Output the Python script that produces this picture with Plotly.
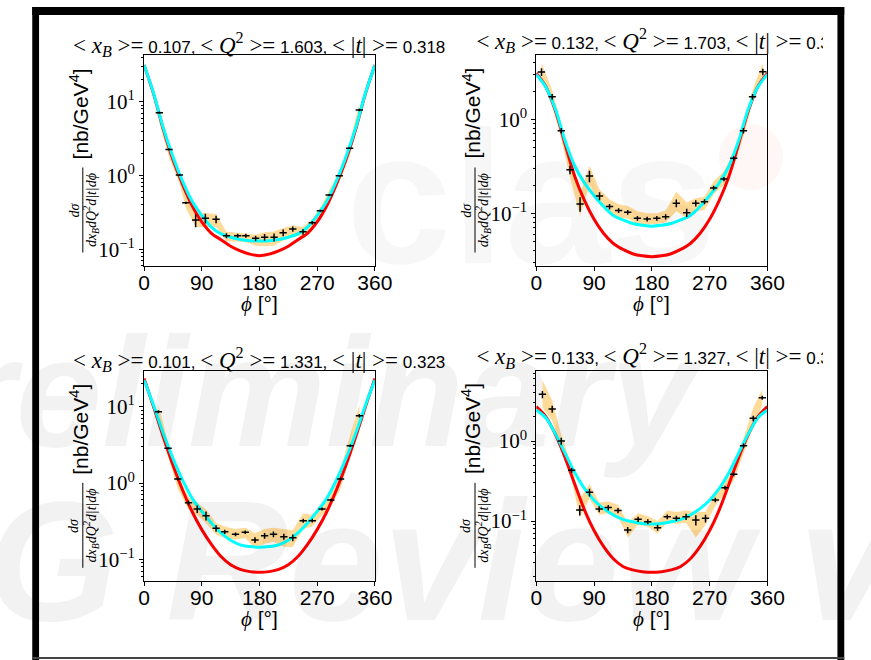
import plotly.graph_objects as go

W, H = 871, 660

# ---------------- data ----------------
PHI_CURVE = [0, 15, 30, 45, 60, 75, 90, 105, 120, 135, 150, 165, 180,
             195, 210, 225, 240, 255, 270, 285, 300, 315, 330, 345, 360]

# panel 1 : <xB>=0.107, <Q2>=1.603, <|t|>=0.318
phi1 = [23.8, 39.0, 55.1, 65.2, 80.4, 95.6, 112.3, 128.5, 146.0, 158.8, 174.0,
        188.0, 202.8, 217.0, 232.0, 248.0, 262.4, 275.0, 288.7, 304.5, 320.6, 335.7]
xs1 = [7.1, 2.26, 1.02, 0.427, 0.249, 0.263, 0.255, 0.153, 0.153, 0.153, 0.141,
       0.146, 0.146, 0.168, 0.188, 0.173, 0.229, 0.333, 0.545, 0.99, 2.34, 7.7]
err1 = [0.25, 0.06, 0.03, 0.015, 0.05, 0.04, 0.03, 0.012, 0.01, 0.01, 0.012,
        0.015, 0.018, 0.018, 0.015, 0.015, 0.012, 0.01, 0.012, 0.02, 0.05, 0.3]
lo1 = [5.2, 1.75, 0.8, 0.36, 0.2, 0.2, 0.2, 0.128, 0.128, 0.125, 0.112,
       0.11, 0.112, 0.132, 0.152, 0.15, 0.2, 0.285, 0.46, 0.82, 1.85, 5.6]
hi1 = [8.6, 2.65, 1.2, 0.52, 0.31, 0.31, 0.3, 0.173, 0.168, 0.163, 0.158,
       0.17, 0.175, 0.195, 0.21, 0.2, 0.26, 0.37, 0.63, 1.15, 2.8, 9.3]
cyan1 = [31.4, 12.8, 4.4, 1.8, 0.84, 0.447, 0.287, 0.2, 0.162, 0.146, 0.136, 0.131, 0.13,
         0.131, 0.136, 0.146, 0.162, 0.2, 0.287, 0.447, 0.84, 1.8, 4.4, 12.8, 31.4]
red1 = [31.4, 12.6, 4.2, 1.65, 0.76, 0.39, 0.235, 0.165, 0.135, 0.11, 0.095, 0.086, 0.082,
        0.086, 0.095, 0.11, 0.135, 0.165, 0.235, 0.39, 0.76, 1.65, 4.2, 12.6, 31.4]

# panel 2 : <xB>=0.132, <Q2>=1.703
phi2 = [8.1, 24.7, 38.9, 52.5, 68.2, 82.8, 98.5, 114.1, 128.2, 142.4, 157.5, 172.7,
        187.8, 201.5, 218.1, 234.3, 248.4, 262.0, 276.2, 292.3, 307.5, 322.6, 336.8, 352.9]
xs2 = [3.19, 1.74, 0.757, 0.29, 0.126, 0.249, 0.153, 0.118, 0.107, 0.1025, 0.0885, 0.087,
       0.0885, 0.092, 0.128, 0.1016, 0.128, 0.133, 0.186, 0.232, 0.385, 0.757, 1.74, 3.2]
err2 = [0.3, 0.12, 0.05, 0.03, 0.022, 0.035, 0.015, 0.008, 0.006, 0.006, 0.005, 0.005,
        0.005, 0.006, 0.012, 0.01, 0.01, 0.008, 0.01, 0.012, 0.02, 0.05, 0.12, 0.25]
lo2 = [2.6, 1.4, 0.62, 0.24, 0.095, 0.2, 0.13, 0.1, 0.09, 0.088, 0.077, 0.076,
       0.077, 0.08, 0.105, 0.09, 0.105, 0.108, 0.16, 0.2, 0.32, 0.65, 1.5, 2.8]
hi2 = [4.0, 2.05, 0.9, 0.35, 0.16, 0.32, 0.18, 0.14, 0.125, 0.12, 0.105, 0.1,
       0.1, 0.107, 0.17, 0.13, 0.145, 0.15, 0.22, 0.28, 0.45, 0.88, 2.05, 4.0]
cyan2 = [3.0, 2.2, 1.27, 0.587, 0.317, 0.211, 0.155, 0.118, 0.095, 0.085, 0.078, 0.0747, 0.073,
         0.0747, 0.078, 0.085, 0.095, 0.118, 0.155, 0.211, 0.317, 0.587, 1.27, 2.2, 3.0]
red2 = [3.1, 2.22, 1.22, 0.542, 0.247, 0.137, 0.0863, 0.061, 0.0478, 0.0413, 0.0372, 0.0353, 0.0346,
        0.0353, 0.0372, 0.0413, 0.0478, 0.061, 0.0863, 0.137, 0.247, 0.542, 1.22, 2.22, 3.1]

# panel 3 : <xB>=0.101, <Q2>=1.331, <|t|>=0.323
phi3 = [22.3, 37.4, 52.6, 69.3, 82.9, 96.6, 112.3, 125.9, 142.6, 157.8, 173.0,
        188.0, 201.8, 218.0, 232.0, 248.3, 262.4, 277.6, 291.3, 306.5, 321.6, 335.8]
xs3 = [8.6, 2.85, 1.13, 0.552, 0.456, 0.373, 0.255, 0.23, 0.213, 0.226, 0.179,
       0.204, 0.213, 0.198, 0.192, 0.321, 0.321, 0.456, 0.598, 1.13, 3.08, 7.6]
err3 = [0.4, 0.1, 0.05, 0.04, 0.05, 0.05, 0.025, 0.015, 0.012, 0.012, 0.015,
        0.018, 0.018, 0.018, 0.02, 0.02, 0.018, 0.02, 0.025, 0.05, 0.12, 0.4]
lo3 = [6.0, 2.2, 0.85, 0.45, 0.38, 0.3, 0.21, 0.19, 0.18, 0.19, 0.14,
       0.16, 0.17, 0.145, 0.145, 0.25, 0.27, 0.38, 0.5, 0.85, 2.3, 5.3]
hi3 = [10.5, 3.4, 1.3, 0.66, 0.55, 0.45, 0.3, 0.27, 0.25, 0.26, 0.22,
       0.25, 0.26, 0.25, 0.24, 0.4, 0.38, 0.52, 0.7, 1.5, 4.3, 10.5]
cyan3 = [22.3, 10.3, 4.45, 2.1, 1.09, 0.63, 0.425, 0.3, 0.222, 0.178, 0.155, 0.147, 0.144,
         0.147, 0.155, 0.178, 0.222, 0.3, 0.425, 0.63, 1.09, 2.1, 4.45, 10.3, 22.3]
red3 = [23.4, 9.8, 4.0, 1.72, 0.81, 0.42, 0.245, 0.157, 0.109, 0.085, 0.074, 0.069, 0.0676,
        0.069, 0.074, 0.085, 0.109, 0.157, 0.245, 0.42, 0.81, 1.72, 4.0, 9.8, 23.4]

# panel 4 : <xB>=0.133, <Q2>=1.327
phi4 = [9.6, 24.8, 38.9, 55.1, 67.7, 82.9, 98.0, 112.1, 127.3, 142.4, 158.6, 173.7,
        188.9, 204.0, 218.2, 233.3, 248.5, 263.6, 278.8, 293.9, 307.6, 322.8, 337.9, 352.0]
xs4 = [3.83, 2.51, 1.0, 0.43, 0.137, 0.228, 0.141, 0.147, 0.135, 0.0772, 0.105, 0.098,
       0.0826, 0.113, 0.108, 0.113, 0.103, 0.108, 0.183, 0.261, 0.383, 0.874, 1.92, 3.48]
err4 = [0.4, 0.25, 0.1, 0.03, 0.02, 0.025, 0.012, 0.012, 0.01, 0.007, 0.008, 0.007,
        0.007, 0.008, 0.008, 0.01, 0.015, 0.012, 0.012, 0.015, 0.02, 0.06, 0.15, 0.2]
lo4 = [2.6, 1.8, 0.78, 0.33, 0.11, 0.19, 0.12, 0.125, 0.115, 0.062, 0.09, 0.085,
       0.07, 0.097, 0.092, 0.095, 0.062, 0.09, 0.155, 0.22, 0.32, 0.7, 1.5, 2.8]
hi4 = [5.8, 3.2, 1.2, 0.5, 0.19, 0.29, 0.17, 0.175, 0.16, 0.095, 0.125, 0.115,
       0.1, 0.135, 0.13, 0.135, 0.13, 0.13, 0.22, 0.31, 0.45, 1.1, 2.6, 4.4]
cyan4 = [2.44, 1.94, 1.22, 0.70, 0.40, 0.255, 0.182, 0.143, 0.119, 0.105, 0.0977, 0.0933, 0.0917,
         0.0933, 0.0977, 0.105, 0.119, 0.143, 0.182, 0.255, 0.40, 0.70, 1.22, 1.94, 2.44]
red4 = [2.69, 2.01, 1.2, 0.615, 0.288, 0.138, 0.076, 0.0477, 0.0337, 0.027, 0.0245, 0.0232, 0.0228,
        0.0232, 0.0245, 0.027, 0.0337, 0.0477, 0.076, 0.138, 0.288, 0.615, 1.2, 2.01, 2.69]

BIN_HALF = 5.7  # half bin width drawn as horizontal bar (deg)

X_TICKS = [0, 90, 180, 270, 360]
Y_TICKS = [0.1, 1, 10]
Y_TICKTEXT = ["10<sup>\u22121</sup>", "10<sup>0</sup>", "10<sup>1</sup>"]

TITLES = [
    ("0.107", "1.603", "0.318"),
    ("0.132", "1.703", "0.327"),
    ("0.101", "1.331", "0.323"),
    ("0.133", "1.327", "0.335"),
]

# ---------------- layout helpers ----------------
SANS = "Liberation Sans, Arial, sans-serif"
SERIF = "Liberation Serif, Times New Roman, serif"


def px_x(px):
    return px / W


def px_y(py):
    return 1 - py / H


def title_html(vals):
    a, b, c = vals
    sp = "<span style=\"font-family:'Liberation Serif';font-size:23px\">"
    return (f"{sp}&lt; <i>x</i><sub><i>B</i></sub> &gt;=</span> {a}, "
            f"{sp}&lt; <i>Q</i><sup>2</sup> &gt;=</span> {b}, "
            f"{sp}&lt; |<i>t</i>| &gt;=</span> {c}")


# panel geometry (pixels)
PANELS = [
    dict(phi=phi1, y=xs1, e=err1, lo=lo1, hi=hi1, c=cyan1, r=red1, yr=[-1.222, 1.629],
         L=142.0, R=379.3, T=55.3, B=265.7),
    dict(phi=phi2, y=xs2, e=err2, lo=lo2, hi=hi2, c=cyan2, r=red2, yr=[-1.557, 0.681],
         L=545.3, R=783.0, T=55.3, B=265.7),
    dict(phi=phi3, y=xs3, e=err3, lo=lo3, hi=hi3, c=cyan3, r=red3, yr=[-1.284, 1.472],
         L=142.0, R=379.3, T=370.7, B=581.0),
    dict(phi=phi4, y=xs4, e=err4, lo=lo4, hi=hi4, c=cyan4, r=red4, yr=[-1.75, 0.879],
         L=545.3, R=783.0, T=370.7, B=581.0),
]

fig = go.Figure()
layout = dict(width=W, height=H, margin=dict(l=0, r=0, t=0, b=0),
              paper_bgcolor="white", plot_bgcolor="rgba(0,0,0,0)",
              showlegend=False)
annotations = []
shapes = []

# ---------------- watermark ----------------
WM = "rgba(0,0,0,0.05)"
annotations.append(dict(text="<b>clas</b>", x=px_x(348), y=px_y(305), xref="paper", yref="paper",
                        xanchor="left", yanchor="bottom", showarrow=False,
                        font=dict(family=SANS, size=190, color="rgba(0,0,0,0.03)")))
annotations.append(dict(text="<b><i>Preliminary</i></b>", x=px_x(-160), y=px_y(481), xref="paper", yref="paper",
                        xanchor="left", yanchor="bottom", showarrow=False,
                        font=dict(family=SANS, size=155, color=WM)))
annotations.append(dict(text="<b><i>WG Review v2</i></b>", x=px_x(-187), y=px_y(658), xref="paper", yref="paper",
                        xanchor="left", yanchor="bottom", showarrow=False,
                        font=dict(family=SANS, size=170, color=WM)))
shapes.append(dict(type="circle", xref="paper", yref="paper",
                   x0=px_x(733), x1=px_x(799), y0=px_y(190), y1=px_y(124),
                   fillcolor="rgba(255,0,0,0.035)", line=dict(width=0), layer="below"))

minor_vals = [m * 10 ** k for k in range(-3, 3) for m in range(2, 10)]

for i, p in enumerate(PANELS, start=1):
    xa = f"x{i}" if i > 1 else "x"
    ya = f"y{i}" if i > 1 else "y"
    # systematic band
    fig.add_trace(go.Scatter(x=p["phi"] + p["phi"][::-1], y=p["hi"] + p["lo"][::-1],
                             fill="toself", fillcolor="rgba(255,165,0,0.40)",
                             line=dict(width=0), mode="lines", hoverinfo="skip",
                             xaxis=xa, yaxis=ya))
    fig.add_trace(go.Scatter(x=PHI_CURVE, y=p["r"], mode="lines", line=dict(color="#ff0000", width=3,
                             shape="spline", smoothing=1.0), xaxis=xa, yaxis=ya))
    fig.add_trace(go.Scatter(x=PHI_CURVE, y=p["c"], mode="lines", line=dict(color="#00ffff", width=3,
                             shape="spline", smoothing=1.0), xaxis=xa, yaxis=ya))
    fig.add_trace(go.Scatter(x=p["phi"], y=p["y"], mode="markers",
                             marker=dict(size=1, color="black"),
                             error_x=dict(type="constant", value=BIN_HALF, color="black", thickness=1.5, width=0),
                             error_y=dict(type="data", array=p["e"], color="black", thickness=1.5, width=0),
                             xaxis=xa, yaxis=ya))

    xkey = "xaxis" if i == 1 else f"xaxis{i}"
    ykey = "yaxis" if i == 1 else f"yaxis{i}"
    layout[xkey] = dict(domain=[px_x(p["L"]), px_x(p["R"])], anchor=ya, range=[0, 360],
                        tickmode="array", tickvals=X_TICKS, ticks="outside", ticklen=4,
                        tickcolor="black", tickfont=dict(family=SANS, size=21, color="black"),
                        ticklabelstandoff=-6,
                        showline=True, linecolor="black", linewidth=1, mirror=True,
                        showgrid=False, zeroline=False)
    layout[ykey] = dict(domain=[px_y(p["B"]), px_y(p["T"])], anchor=xa, type="log", range=p["yr"],
                        tickmode="array", tickvals=Y_TICKS, ticktext=Y_TICKTEXT,
                        ticks="outside", ticklen=4, tickcolor="black",
                        tickfont=dict(family=SERIF, size=21, color="black"),
                        minor=dict(tickmode="array", tickvals=minor_vals, ticks="outside",
                                   ticklen=2, tickcolor="black", showgrid=False),
                        showline=True, linecolor="black", linewidth=1, mirror=True,
                        showgrid=False, zeroline=False)

    cx = (p["L"] + p["R"]) / 2
    # x axis title
    annotations.append(dict(text="<span style=\"font-family:'Liberation Serif'\"><i>\u03d5</i></span> [\u00b0]",
                            x=px_x(cx), y=px_y(p["B"] + 38), xref="paper", yref="paper",
                            xanchor="center", yanchor="middle", showarrow=False,
                            font=dict(family=SANS, size=21, color="black")))
    # y axis title : [nb/GeV^4] and fraction
    lx = p["L"] - 63
    mid = (p["T"] + p["B"]) / 2
    annotations.append(dict(text="[nb/GeV<sup>4</sup>]", x=px_x(lx - 4), y=px_y(mid - 47),
                            xref="paper", yref="paper", xanchor="center", yanchor="middle",
                            textangle=-90, showarrow=False,
                            font=dict(family=SANS, size=21, color="black")))
    annotations.append(dict(text="<i>d\u03c3</i>", x=px_x(lx - 9), y=px_y(mid + 50),
                            xref="paper", yref="paper", xanchor="center", yanchor="middle",
                            textangle=-90, showarrow=False,
                            font=dict(family=SERIF, size=14, color="black")))
    annotations.append(dict(text="<i>dx<sub>B</sub>dQ<sup>2</sup>d|t|d\u03d5</i>", x=px_x(lx + 8),
                            y=px_y(mid + 50), xref="paper", yref="paper",
                            xanchor="center", yanchor="middle", textangle=-90, showarrow=False,
                            font=dict(family=SERIF, size=14, color="black")))
    shapes.append(dict(type="line", xref="paper", yref="paper", x0=px_x(lx), x1=px_x(lx),
                       y0=px_y(mid + 7), y1=px_y(mid + 92), line=dict(color="black", width=1)))

    # subplot title
    ty = p["T"] - 11
    if p["L"] < 400:
        annotations.append(dict(text=title_html(TITLES[i - 1]), x=px_x(cx), y=px_y(ty),
                                xref="paper", yref="paper", xanchor="center", yanchor="middle",
                                showarrow=False, font=dict(family=SANS, size=17, color="black")))
    else:
        k = 5 if i == 2 else 6
        xl, xr = 430.0, 840.0
        fig.add_trace(go.Scatter(x=[(cx + 11 - xl) / (xr - xl)], y=[0.5], mode="text",
                                 text=[title_html(TITLES[i - 1])], textposition="middle center",
                                 textfont=dict(family=SANS, size=17, color="black"),
                                 cliponaxis=True, hoverinfo="skip",
                                 xaxis=f"x{k}", yaxis=f"y{k}"))
        layout[f"xaxis{k}"] = dict(domain=[px_x(xl), px_x(xr)], range=[0, 1], visible=False,
                                   anchor=f"y{k}", fixedrange=True)
        layout[f"yaxis{k}"] = dict(domain=[px_y(ty + 22), px_y(ty - 22)], range=[0, 1], visible=False,
                                   anchor=f"x{k}", fixedrange=True)

# ---------------- slide frame ----------------
frame = [(27, 7, 862, 15), (27, 7, 34, 660), (855, 7, 862, 660)]
for (a, b, c, d) in frame:
    shapes.append(dict(type="rect", xref="paper", yref="paper", x0=px_x(a), x1=px_x(c),
                       y0=px_y(d), y1=px_y(b), fillcolor="black", line=dict(width=0), layer="above"))
shapes.append(dict(type="rect", xref="paper", yref="paper", x0=px_x(27), x1=px_x(862),
                   y0=px_y(659), y1=px_y(657), fillcolor="#444444", line=dict(width=0), layer="above"))

layout["annotations"] = annotations
layout["shapes"] = shapes
fig.update_layout(**layout)
fig.write_html("out.html")
